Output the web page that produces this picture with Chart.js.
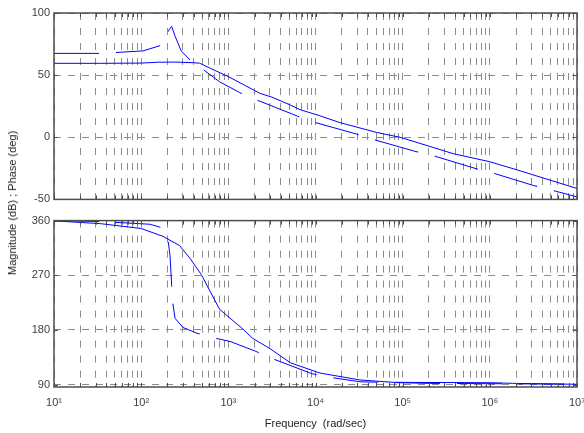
<!DOCTYPE html>
<html>
<head>
<meta charset="utf-8">
<script src="https://cdn.jsdelivr.net/npm/chart.js@4.4.1/dist/chart.umd.min.js"></script>
<style>
  html, body { margin: 0; padding: 0; background: #fff; }
  #wrap { position: relative; width: 584px; height: 433px; overflow: hidden; }
  #magCanvas { position: absolute; left: 0; top: 0; }
  #phaseCanvas { position: absolute; left: 0; top: 210px; }
  #ylabel {
    position: absolute; left: 12px; top: 203px;
    transform: translate(-50%, -50%) rotate(-90deg);
    font: 11px "Liberation Sans", Arial, sans-serif; color: #222; white-space: nowrap;
  }
</style>
</head>
<body>
<div id="wrap">
  <canvas id="magCanvas" width="584" height="210"></canvas>
  <canvas id="phaseCanvas" width="584" height="223"></canvas>
  <div id="ylabel">Magnitude (dB) ; Phase (deg)</div>
</div>
<script>
// ---- Data (frequency in rad/sec) ----
const magSolidW  = [10, 34, 100, 158, 251, 398, 468, 631, 1000, 1585, 2291, 3162, 5129, 6607, 11220, 19055, 50119, 93325, 380189, 1e6, 2041738, 1e7];
const magSolidDb = [59.5, 59.5, 59.7, 60.4, 60.5, 60.0, 59.6, 55.3, 48.8, 41.4, 35.4, 32.3, 26, 22.3, 17.3, 11.8, 3.9, 0, -13.2, -19.7, -26.2, -41.2];

const magDashW  = [10, 34, 51, 105, 166, 195, 209, 224, 245, 288, 363, 513, 794, 1349, 2089, 6166, 9333, 29512, 43652, 138038, 213796, 676083, 1e6, 3090295, 4786301, 1e7];
const magDashDb = [67.5, 67.5, 68.2, 69.5, 73.8, 79, 86.6, 89.2, 81.3, 69.5, 62.2, 54.6, 44.6, 36, 30.2, 17.1, 12.4, 2.6, -1.3, -11.3, -14.4, -25, -28, -38.6, -42, -48];

const phaseSolidW   = [10, 34, 100, 178, 275, 363, 490, 631, 794, 1479, 1905, 3020, 5129, 11220, 32359, 77625, 1071519, 1819701, 1e7];
const phaseSolidDeg = [359.5, 355, 347, 334, 319, 298, 271, 241, 214, 181, 166, 149, 126, 109, 97.6, 93.7, 93, 92, 90.5];

const phaseDashW   = [10, 34, 126, 166, 191, 204, 214, 224, 229, 245, 302, 437, 646, 1047, 2042, 3020, 5129, 9016, 13490, 32359, 190546, 4073803, 1e7];
const phaseDashDeg = [359.9, 358.5, 354, 349, 340, 327, 303, 253, 227, 199, 184, 174.6, 167.6, 161, 145, 134, 121.6, 108, 102.6, 94.6, 92, 91, 90.5];

const decades    = [10, 100, 1000, 10000, 100000, 1000000, 10000000];
const magTicks   = [-50, 0, 50, 100];
const phaseTicks = [90, 180, 270, 360];

// ---- Styling ----
const FONT = '"Liberation Sans", Arial, Helvetica, sans-serif';
const GRID_COLOR = '#8c8c8c';
const AXIS_COLOR = '#4d4d4d';
const TICK_COLOR = '#404040';
const LINE_COLOR = '#0000ff';
const SUP = { 1: '\u00b9', 2: '\u00b2', 3: '\u00b3', 4: '\u2074', 5: '\u2075', 6: '\u2076', 7: '\u2077' };

const toPoints = (xs, ys) => xs.map((x, i) => ({ x: x, y: ys[i] }));

// minor + major positions for the log grid
function logGridTicks() {
    const t = [];
    decades.forEach((d, i) => {
        if (i === decades.length - 1) { t.push({ value: d }); return; }
        for (let m = 1; m <= 9; m++) t.push({ value: d * m });
    });
    return t;
}

// matlab style box with inward tick marks
const boxPlugin = {
    id: 'box',
    afterDraw(chart) {
        const { ctx, chartArea: a, scales } = chart;
        ctx.save();
        ctx.setLineDash([]);
        ctx.strokeStyle = AXIS_COLOR;
        ctx.lineWidth = 1;
        ctx.beginPath();
        scales.x.ticks.forEach(t => {
            const px = Math.round(scales.x.getPixelForValue(t.value)) + 0.5;
            ctx.moveTo(px, a.bottom); ctx.lineTo(px, a.bottom - 4);
            ctx.moveTo(px, a.top); ctx.lineTo(px, a.top + 4);
        });
        scales.y.ticks.forEach(t => {
            const py = Math.round(scales.y.getPixelForValue(t.value)) + 0.5;
            ctx.moveTo(a.left, py); ctx.lineTo(a.left + 4, py);
            ctx.moveTo(a.right, py); ctx.lineTo(a.right - 4, py);
        });
        ctx.stroke();
        ctx.lineWidth = 1.5;
        ctx.strokeRect(a.left, a.top, a.right - a.left, a.bottom - a.top);
        ctx.restore();
    }
};

function lineSet(points, dashed) {
    return {
        data: points,
        borderColor: LINE_COLOR,
        borderWidth: 1,
        borderDash: dashed ? [45, 17] : [],
        pointRadius: 0,
        tension: 0,
        fill: false
    };
}

function makeOptions(cfg) {
    return {
        responsive: false,
        animation: false,
        events: [],
        layout: { padding: { left: 0, right: 7, top: cfg.padTop, bottom: 0 } },
        plugins: { legend: { display: false }, tooltip: { enabled: false } },
        scales: {
            x: {
                type: 'logarithmic',
                min: 10,
                max: 1e7,
                afterBuildTicks: s => { s.ticks = logGridTicks(); },
                afterFit: s => { s.height = cfg.xHeight; s.paddingLeft = 0; s.paddingRight = 0; },
                grid: { color: GRID_COLOR, lineWidth: 1, drawTicks: false },
                border: { display: false, dash: [7, 8] },
                ticks: {
                    display: cfg.showX,
                    autoSkip: false,
                    maxRotation: 0,
                    padding: 9,
                    color: TICK_COLOR,
                    font: { family: FONT, size: 11 },
                    callback: v => {
                        const e = Math.round(Math.log10(v));
                        return Math.abs(Math.pow(10, e) - v) < 1e-6 * v ? '10' + SUP[e] : '';
                    }
                },
                title: {
                    display: cfg.showX,
                    text: 'Frequency  (rad/sec)',
                    color: '#222',
                    font: { family: FONT, size: 11 },
                    padding: { top: 0, bottom: 2 }
                }
            },
            y: {
                min: cfg.yMin,
                max: cfg.yMax,
                afterBuildTicks: s => { s.ticks = cfg.yTicks.map(v => ({ value: v })); },
                afterFit: s => { s.width = 54; },
                grid: { color: GRID_COLOR, lineWidth: 1, drawTicks: false },
                border: { display: false, dash: [7, 7] },
                ticks: {
                    padding: 4,
                    color: TICK_COLOR,
                    font: { family: FONT, size: 11 }
                }
            }
        }
    };
}

new Chart(document.getElementById('magCanvas'), {
    type: 'line',
    data: {
        datasets: [
            lineSet(toPoints(magSolidW, magSolidDb), false),
            lineSet(toPoints(magDashW, magDashDb), true)
        ]
    },
    options: makeOptions({ padTop: 13, xHeight: 6, showX: false, yMin: -50, yMax: 100, yTicks: magTicks }),
    plugins: [boxPlugin]
});

new Chart(document.getElementById('phaseCanvas'), {
    type: 'line',
    data: {
        datasets: [
            lineSet(toPoints(phaseSolidW, phaseSolidDeg), false),
            lineSet(toPoints(phaseDashW, phaseDashDeg), true)
        ]
    },
    options: makeOptions({ padTop: 8, xHeight: 46, showX: true, yMin: 86, yMax: 360, yTicks: phaseTicks }),
    plugins: [boxPlugin]
});
</script>
</body>
</html>
